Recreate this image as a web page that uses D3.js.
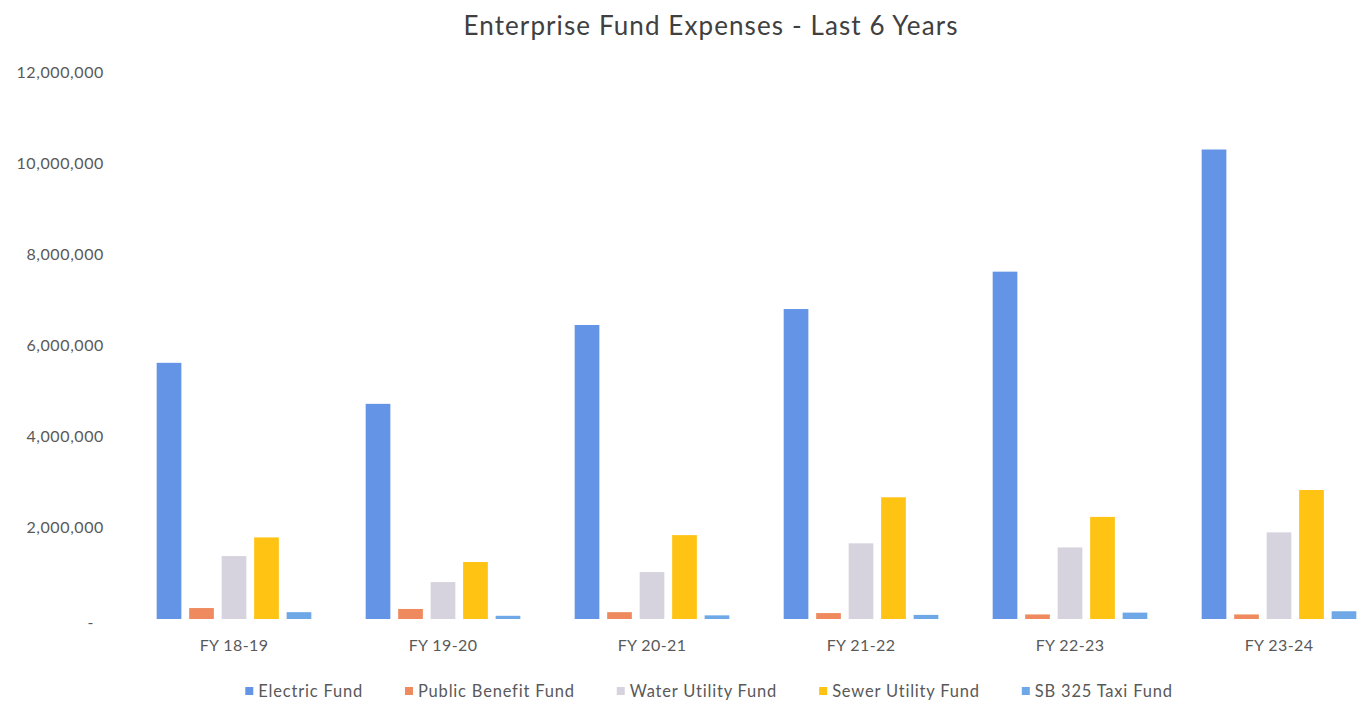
<!DOCTYPE html>
<html>
<head>
<meta charset="utf-8">
<script src="https://cdn.jsdelivr.net/npm/d3@7"></script>
<style>
  html, body { margin: 0; padding: 0; background: #fff; }
  svg { display: block; font-family: Lato, "Open Sans", sans-serif; }
</style>
</head>
<body>
<svg id="chart" width="1371" height="705"></svg>
<script>
// Fiscal years on the category axis
const years = ["FY 18-19", "FY 19-20", "FY 20-21", "FY 21-22", "FY 22-23", "FY 23-24"];

// Fund names, in legend / bar order
const funds = ["Electric Fund", "Public Benefit Fund", "Water Utility Fund", "Sewer Utility Fund", "SB 325 Taxi Fund"];

// Annual expenses per fund (dollars)
const electricFund       = [5620000, 4720000, 6450000, 6800000, 7620000, 10300000];
const publicBenefitFund  = [240000, 220000, 150000, 130000, 100000, 100000];
const waterUtilityFund   = [1380000, 810000, 1030000, 1660000, 1570000, 1900000];
const sewerUtilityFund   = [1790000, 1250000, 1840000, 2670000, 2240000, 2830000];
const sb325TaxiFund      = [150000, 70000, 80000, 90000, 140000, 170000];

// Value-axis ticks
const yTicks = [0, 2000000, 4000000, 6000000, 8000000, 10000000, 12000000];

const seriesValues = [electricFund, publicBenefitFund, waterUtilityFund, sewerUtilityFund, sb325TaxiFund];
const colors = ["#6494e6", "#ee8a5e", "#d6d3de", "#ffc313", "#6fa8e6"];

const svg = d3.select("#chart");

const x0 = d3.scaleBand().domain(years).range([129.5, 1383.5]).paddingInner(0.26).paddingOuter(0.13);
const x1 = d3.scaleBand().domain(funds).range([0, x0.bandwidth()]).paddingInner(0.24);
const y = d3.scaleLinear().domain([0, 12000000]).range([619, 72]);

// Title
svg.append("text")
  .attr("x", 711).attr("y", 35)
  .attr("text-anchor", "middle")
  .attr("font-size", 26)
  .attr("letter-spacing", 1.1)
  .attr("fill", "#404040")
  .text("Enterprise Fund Expenses - Last 6 Years");

// Value axis labels (accounting style, zero shown as a dash)
const fmt = d3.format(",");
const yAxis = d3.axisLeft(y).tickValues(yTicks).tickSize(0).tickPadding(0)
  .tickFormat(d => d === 0 ? "-" : fmt(d));
const yg = svg.append("g").attr("transform", "translate(104,0)").call(yAxis);
yg.select(".domain").remove();
yg.selectAll("text").attr("font-size", 16).attr("letter-spacing", 0.6)
  .attr("fill", "#595959").attr("font-family", "Lato, sans-serif");
yg.selectAll(".tick").filter(d => d === 0).select("text").attr("dx", -10).attr("dy", "0.5em");

// Category axis labels
const xAxis = d3.axisBottom(x0).tickSize(0).tickPadding(0);
const xg = svg.append("g").attr("transform", "translate(0,640)").call(xAxis);
xg.select(".domain").remove();
xg.selectAll("text").attr("font-size", 16).attr("letter-spacing", 0.4)
  .attr("fill", "#595959").attr("font-family", "Lato, sans-serif");

// Bars
const groups = svg.append("g").selectAll("g")
  .data(years)
  .join("g")
  .attr("transform", d => `translate(${x0(d)},0)`);

groups.selectAll("rect")
  .data((d, i) => funds.map((f, k) => ({ fund: f, k, value: seriesValues[k][i] })))
  .join("rect")
  .attr("x", d => x1(d.fund))
  .attr("width", x1.bandwidth())
  .attr("y", d => y(d.value))
  .attr("height", d => y(0) - y(d.value))
  .attr("fill", d => colors[d.k]);

// Legend, centred under the plot
const legend = svg.append("g").attr("transform", "translate(0,691)");
const items = legend.selectAll("g").data(funds).join("g");
items.append("rect")
  .attr("width", 8).attr("height", 8).attr("y", -4)
  .attr("fill", (d, i) => colors[i]);
items.append("text")
  .attr("x", 13).attr("dy", "0.35em")
  .attr("font-size", 16.5).attr("letter-spacing", 0.8).attr("fill", "#595959")
  .text(d => d);
const gap = 42;
let widths = [];
items.each(function() { widths.push(this.getBBox().width); });
const total = d3.sum(widths) + gap * (widths.length - 1);
let cx = 709 - total / 2;
items.attr("transform", (d, i) => {
  const t = `translate(${cx},0)`;
  cx += widths[i] + gap;
  return t;
});
</script>
</body>
</html>
